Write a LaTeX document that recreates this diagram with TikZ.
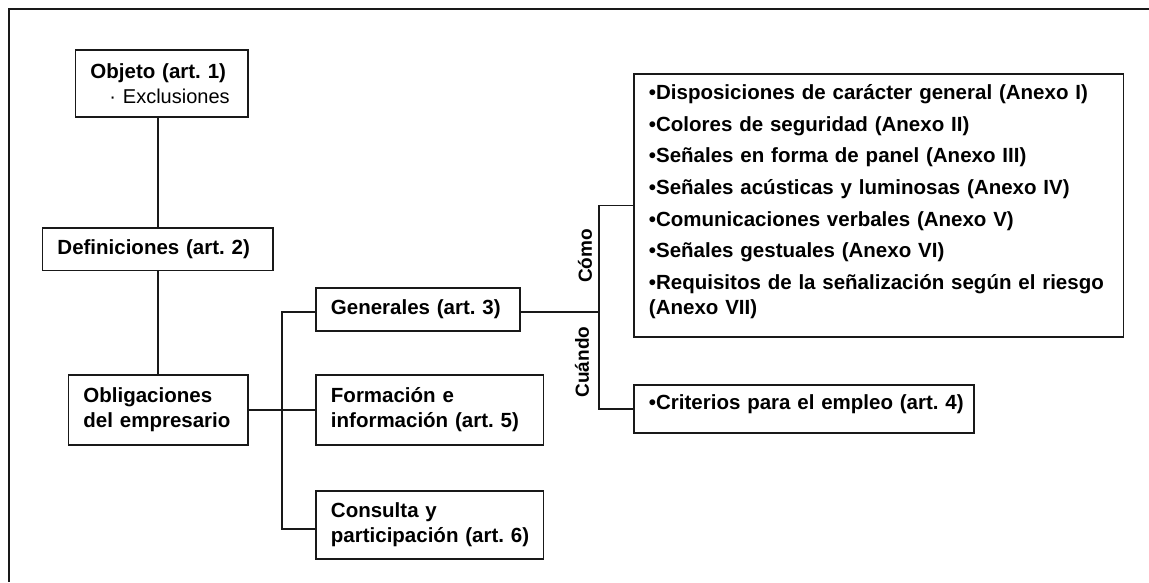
\documentclass[tikz,border=0pt]{standalone}
\usepackage{fontspec}
\setmainfont{Liberation Sans}
\usetikzlibrary{calc}
\begin{document}
\frenchspacing
\begin{tikzpicture}[x=1pt,y=-1pt,
  box/.style={draw=black!90, line width=1.9pt, anchor=north west, align=left,
    inner xsep=15pt, inner ysep=0pt, font=\bfseries\fontsize{20.5}{25}\selectfont},
  wire/.style={draw=black!90, line width=1.8pt},
  side/.style={font=\bfseries\fontsize{19}{23}\selectfont, rotate=90, inner sep=0pt}]
\useasboundingbox (0,0) rectangle (1149,582);
% frame
\draw[wire] (1149,9.3) -- (8.8,9.3) -- (8.8,582);
% nodes
\node[box, text width=142.5pt, minimum height=67pt] (obj) at (74.5,49)
  {\mbox{Objeto (art. 1)}\\\hspace*{19pt}{\mdseries\fontsize{20}{25}\selectfont ·\ Exclusiones}};
\node[box, text width=200.5pt, minimum height=42.5pt] (def) at (41.5,227) {\mbox{Definiciones (art. 2)}};
\node[box, text width=149.5pt, minimum height=70pt] (obl) at (67.5,374) {Obligaciones\\\mbox{del empresario}};
\node[box, text width=174pt, minimum height=43pt] (gen) at (315,287) {\mbox{Generales (art. 3)}};
\node[box, text width=197.5pt, minimum height=70pt] (form) at (315,374) {Formación e\\\mbox{información (art. 5)}};
\node[box, text width=197.5pt, minimum height=68pt] (cons) at (315,490) {Consulta y\\\mbox{participación (art. 6)}};
\node[box, text width=459.5pt, minimum height=263pt] (big) at (633,73)
  {\mbox{•Disposiciones de carácter general (Anexo I)}\\[6.7pt]
   •Colores de seguridad (Anexo II)\\[6.7pt]
   •Señales en forma de panel (Anexo III)\\[6.7pt]
   •Señales acústicas y luminosas (Anexo IV)\\[6.7pt]
   •Comunicaciones verbales (Anexo V)\\[6.7pt]
   •Señales gestuales (Anexo VI)\\[6.7pt]
   \mbox{•Requisitos de la señalización según el riesgo}\\
   (Anexo VII)\rule[-12pt]{0pt}{12pt}};
\node[box, text width=310pt, minimum height=48pt] (crit) at (633,384)
  {\mbox{•Criterios para el empleo (art. 4)}\rule[-14pt]{0pt}{14pt}};
% side labels
\node[side] (como) at (585,256) {Cómo};
\node[side] (cuando) at (582,362) {Cuándo};
% connectors
\draw[wire] (def.north) -- (def.north |- obj.south);
\draw[wire] (def.south) -- (def.south |- obl.north);
\draw[wire] (obl.east) -- (form.west);
\coordinate (lb) at ($(obl.east)!0.5!(form.west)$);
\draw[wire] ([yshift=-2.5pt]gen.west) -| (lb) |- ([yshift=-4pt]cons.west);
\coordinate (rb) at ($(big.west)+(-34,0)$);
\draw[wire] (big.west) -- (rb) |- (crit.west);
\draw[wire] ([yshift=-2.5pt]gen.east) -- ([yshift=-2.5pt]gen.east -| rb);
\end{tikzpicture}
\end{document}
